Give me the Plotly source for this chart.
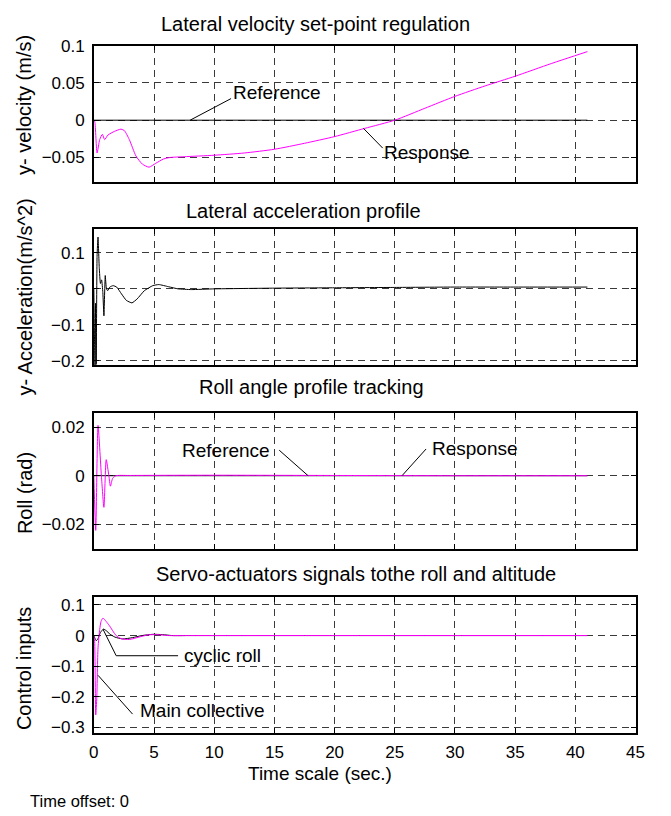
import plotly.graph_objects as go

# ---------------- data ----------------
# Panel 1: lateral velocity
ref_vel_t = [0, 41]
ref_vel = [0, 0]
vel_t = [0, 0.08, 0.27, 0.49, 0.71, 0.9, 1.17, 1.72, 2.26, 2.54, 2.95, 3.5, 4.04, 4.59, 5.13,
         5.8, 6.36, 7.5, 10, 12.5, 15, 17.5, 20, 22.5, 25, 27.5, 30, 32.5, 35, 38, 41]
vel = [0, -0.002, -0.044, -0.026, -0.019, -0.026, -0.020, -0.015, -0.012, -0.014, -0.026, -0.048,
       -0.059, -0.063, -0.058, -0.052, -0.050, -0.049, -0.047, -0.044, -0.039, -0.031, -0.022,
       -0.011, 0.0, 0.016, 0.032, 0.046, 0.059, 0.076, 0.092]

# Panel 2: lateral acceleration
acc_t = [0, 0.05, 0.1, 0.15, 0.2, 0.27, 0.35, 0.45, 0.55, 0.65, 0.75, 0.84, 0.95, 1.05, 1.15, 1.33,
         1.6, 1.9, 2.3, 2.7, 3.17, 3.6, 4.2, 4.9, 5.4, 6.2, 7.0, 8.1, 10, 15, 20, 25, 30, 35, 41]
acc = [0, -0.12, -0.212, -0.04, -0.21, 0.09, 0.144, 0.06, 0.015, 0.025, -0.01, -0.075, 0.037, 0.0,
       -0.005, 0.005, 0.009, 0.005, -0.014, -0.032, -0.039, -0.028, -0.005, 0.009, 0.012, 0.006,
       0.0, -0.002, 0.0, 0.002, 0.003, 0.004, 0.005, 0.005, 0.005]

# Panel 3: roll angle
ref_roll_t = [0, 41]
ref_roll = [0, 0]
roll_t = [0, 0.16, 0.35, 0.63, 0.84, 1.03, 1.25, 1.38, 1.57, 1.85, 3, 10, 20, 30, 41]
roll = [0, -0.0225, 0.0207, 0, -0.013, 0.0066, 0, -0.0043, -0.001, 0, 0.0001, 0.0002, 0.0001, 0, 0]

# Panel 4: control inputs
cyc_t = [0, 0.2, 0.35, 0.55, 0.81, 1.03, 1.33, 1.75, 2.4, 3.2, 4.0, 4.9, 5.7, 6.5, 8, 41]
cyc = [0, -0.017, -0.01, 0.01, 0.021, 0.016, 0.005, -0.005, -0.011, -0.007, 0, 0.004, 0.003, 0, 0, 0]
main_t = [0, 0.07, 0.16, 0.25, 0.35, 0.49, 0.6, 0.76, 1.03, 1.3, 1.85, 2.26, 2.95, 3.76, 4.5, 5.27,
          6.2, 8, 41]
main = [0, -0.02, -0.26, -0.2, -0.04, 0.02, 0.046, 0.057, 0.046, 0.032, 0.0, -0.01, -0.013, -0.005,
        0.002, 0.003, 0.0, 0, 0]

x_ticks = [0, 5, 10, 15, 20, 25, 30, 35, 40, 45]
y1_ticks = [0.1, 0.05, 0, -0.05]
y1_text = ["0.1", "0.05", "0", "\u22120.05"]
y2_ticks = [0.1, 0, -0.1, -0.2]
y2_text = ["0.1", "0", "\u22120.1", "\u22120.2"]
y3_ticks = [0.02, 0, -0.02]
y3_text = ["0.02", "0", "\u22120.02"]
y4_ticks = [0.1, 0, -0.1, -0.2, -0.3]
y4_text = ["0.1", "0", "\u22120.1", "\u22120.2", "\u22120.3"]

titles = ["Lateral velocity set-point regulation", "Lateral acceleration profile",
          "Roll angle profile tracking", "Servo-actuators signals tothe roll and altitude"]
ylabels = ["y- velocity (m/s)", "y- Acceleration(m/s^2)", "Roll (rad)", "Control inputs"]

# ---------------- layout geometry ----------------
W, H = 671, 816
X0, X1 = 90.7, 644
panels = [(37.3, 175.7), (224, 362.7), (411.3, 549.3), (598.3, 736.7)]
yranges = [[-0.0825, 0.1], [-0.213, 0.166], [-0.0301, 0.0257], [-0.319, 0.126]]
title_tc = [18.45, 17.4, 18.07, 21.75]          # title centres, in time units
title_py = [15.5, 205.5, 385, 575]
ylabel_y = [98, 293, 493, 671]

FONT = "Liberation Sans, Arial, Helvetica, sans-serif"
MAG = "#ff00ff"


def tx_px(t):
    return X0 + t * (X1 - X0) / 45.0


def px_x(p):
    return p / W


def px_y(p):
    return 1 - p / H


fig = go.Figure()
line_k = dict(color="black", width=1)

fig.add_trace(go.Scatter(x=ref_vel_t, y=ref_vel, mode="lines", line=line_k, xaxis="x", yaxis="y"))
fig.add_trace(go.Scatter(x=vel_t, y=vel, mode="lines",
                         line=dict(color=MAG, width=1, shape="spline", smoothing=0.6),
                         xaxis="x", yaxis="y"))
fig.add_trace(go.Scatter(x=acc_t, y=acc, mode="lines",
                         line=dict(color="black", width=1, shape="spline", smoothing=0.4),
                         xaxis="x2", yaxis="y2"))
fig.add_trace(go.Scatter(x=ref_roll_t, y=ref_roll, mode="lines", line=line_k, xaxis="x3", yaxis="y3"))
fig.add_trace(go.Scatter(x=roll_t, y=roll, mode="lines",
                         line=dict(color=MAG, width=1, shape="spline", smoothing=0.6),
                         xaxis="x3", yaxis="y3"))
fig.add_trace(go.Scatter(x=cyc_t, y=cyc, mode="lines",
                         line=dict(color="black", width=1, shape="spline", smoothing=0.6),
                         xaxis="x4", yaxis="y4"))
fig.add_trace(go.Scatter(x=main_t, y=main, mode="lines",
                         line=dict(color=MAG, width=1, shape="spline", smoothing=0.6),
                         xaxis="x4", yaxis="y4"))

axis_common = dict(showline=True, linecolor="black", linewidth=1.5, mirror="ticks",
                   ticks="inside", ticklen=5, tickcolor="black", tickwidth=1,
                   showgrid=True, gridcolor="#3a3a3a", gridwidth=1, griddash="7px,5px",
                   zeroline=False, tickfont=dict(family=FONT, size=17, color="black"))

layout = dict(width=W, height=H, margin=dict(l=0, r=0, t=0, b=0), showlegend=False,
              paper_bgcolor="white", plot_bgcolor="white", font=dict(family=FONT, color="black"))
yticks = [(y1_ticks, y1_text), (y2_ticks, y2_text), (y3_ticks, y3_text), (y4_ticks, y4_text)]
for i in range(4):
    sfx = "" if i == 0 else str(i + 1)
    top, bot = panels[i]
    layout["xaxis" + sfx] = dict(axis_common, domain=[px_x(X0), px_x(X1)], range=[0, 45],
                                 tickvals=x_ticks, showticklabels=(i == 3),
                                 anchor="y" + sfx, ticklabelstandoff=3)
    layout["yaxis" + sfx] = dict(axis_common, domain=[px_y(bot), px_y(top)], range=yranges[i],
                                 tickvals=yticks[i][0], ticktext=yticks[i][1],
                                 anchor="x" + sfx, ticklabelstandoff=4)
fig.update_layout(**layout)

ann = []
for i in range(4):
    ann.append(dict(text=titles[i], xref="paper", yref="paper", x=px_x(tx_px(title_tc[i])),
                    y=px_y(title_py[i]), xanchor="center", yanchor="middle", showarrow=False,
                    font=dict(size=20, family=FONT)))
    ann.append(dict(text=ylabels[i], xref="paper", yref="paper", x=px_x(20), y=px_y(ylabel_y[i]),
                    xanchor="center", yanchor="middle", textangle=-90, showarrow=False,
                    font=dict(size=20, family=FONT)))
ann.append(dict(text="Time scale (sec.)", xref="paper", yref="paper", x=px_x(tx_px(18.75)),
                y=px_y(778), xanchor="center", yanchor="middle", showarrow=False,
                font=dict(size=19, family=FONT)))
ann.append(dict(text="Time offset: 0", xref="paper", yref="paper", x=px_x(23), y=px_y(806),
                xanchor="left", yanchor="middle", showarrow=False, font=dict(size=16.5, family=FONT)))

# in-plot labels with pointer lines
labels = [
    ("Reference", "x", "y", 15.2, 0.0375, (11.4, 0.029, 8.0, 0.0)),
    ("Response", "x", "y", 27.7, -0.044, (24.0, -0.0375, 22.4, -0.011)),
    ("Reference", "x3", "y3", 11.0, 0.0103, (15.4, 0.0105, 17.8, 0.0)),
    ("Response", "x3", "y3", 31.7, 0.0112, (27.6, 0.011, 25.6, 0.0)),
    ("cyclic roll", "x4", "y4", 10.65, -0.066, (7.0, -0.066, 1.86, -0.066)),
    ("Main collective", "x4", "y4", 9.07, -0.245, (3.22, -0.257, 0.35, -0.13)),
]
shapes = []
for txt, xr, yr, tx, ty, (ax0, ay0, ax1, ay1) in labels:
    ann.append(dict(text=txt, xref=xr, yref=yr, x=tx, y=ty, xanchor="center", yanchor="middle",
                    showarrow=False, font=dict(size=19, family=FONT)))
    shapes.append(dict(type="line", xref=xr, yref=yr, x0=ax0, y0=ay0, x1=ax1, y1=ay1,
                       line=dict(color="black", width=1)))
shapes.append(dict(type="line", xref="x4", yref="y4", x0=1.86, y0=-0.066, x1=0.76, y1=0.021,
                   line=dict(color="black", width=1)))
fig.update_layout(annotations=ann, shapes=shapes)

fig.write_html("out.html")
